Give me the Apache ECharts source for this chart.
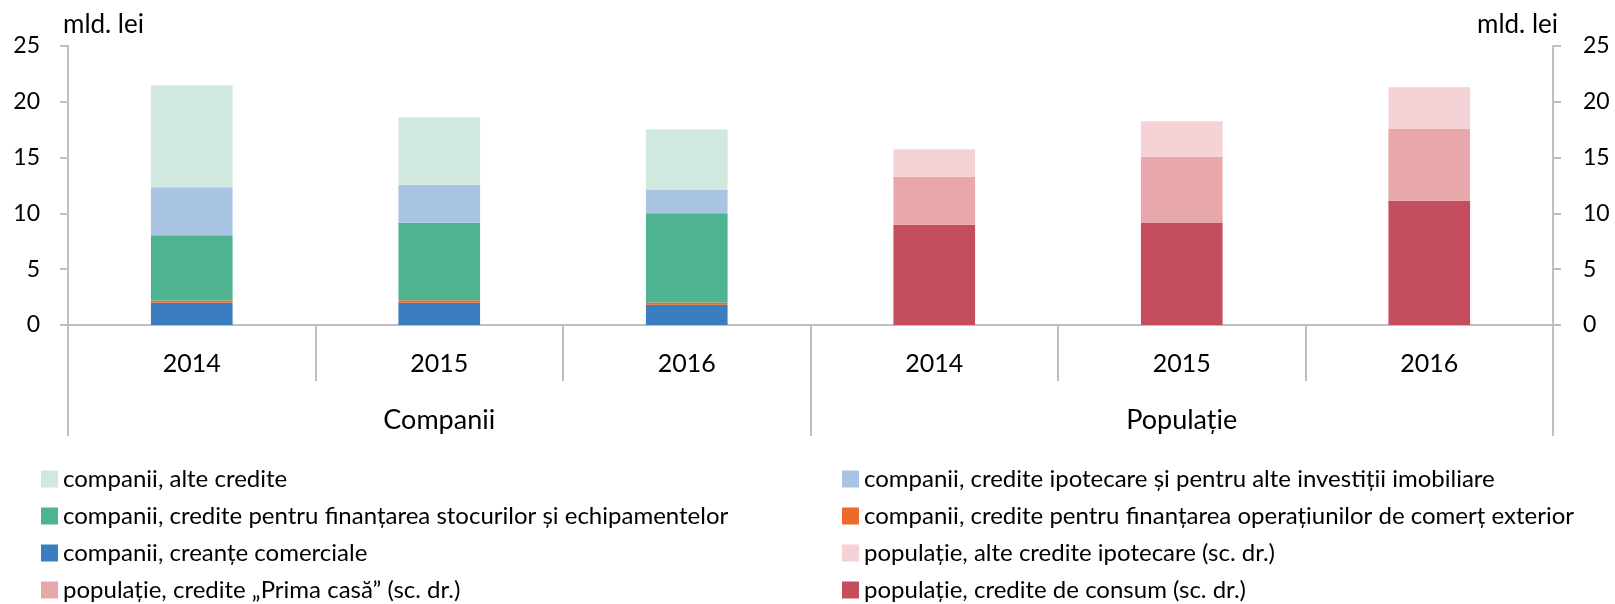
<!DOCTYPE html>
<html>
<head>
<meta charset="utf-8">
<script src="https://cdn.jsdelivr.net/npm/echarts@6/dist/echarts.min.js"></script>
<style>
html,body{margin:0;padding:0;background:#fff;}
#chart{width:1615px;height:604px;}
</style>
</head>
<body>
<div id="chart"></div>
<script>
// ---- data ----
const years = ['2014', '2015', '2016', '2014', '2015', '2016'];
const groups = ['Companii', 'Populație'];
const yTicks = [0, 5, 10, 15, 20, 25];

const compCreante   = [2.0, 2.0, 1.82];
const compComert    = [0.2, 0.22, 0.2];
const compStocuri   = [5.85, 6.94, 8.0];
const compIpotecare = [4.3, 3.4, 2.12];
const compAlte      = [9.13, 6.06, 5.37];

const popConsum     = [8.98, 9.19, 11.13];
const popPrimaCasa  = [4.3, 5.88, 6.44];
const popAlteIpot   = [2.47, 3.19, 3.73];

const names = {
  alte: 'companii, alte credite',
  ipot: 'companii, credite ipotecare și pentru alte investiții imobiliare',
  stoc: 'companii, credite pentru finanțarea stocurilor și echipamentelor',
  comert: 'companii, credite pentru finanțarea operațiunilor de comerț exterior',
  creante: 'companii, creanțe comerciale',
  popAlte: 'populație, alte credite ipotecare (sc. dr.)',
  prima: 'populație, credite „Prima casă” (sc. dr.)',
  consum: 'populație, credite de consum (sc. dr.)'
};

const FONT = 'Lato';
const GREY = '#BFBFBF';

function comp(arr) { return arr.concat(['-', '-', '-']); }
function pop(arr) { return ['-', '-', '-'].concat(arr); }

function bar(name, data, color, stack, yIdx) {
  return {
    name: name, type: 'bar', stack: stack, yAxisIndex: yIdx, xAxisIndex: 0,
    data: data, barWidth: '33%', barGap: '-100%',
    itemStyle: { color: color },
    emphasis: { disabled: true }
  };
}

const chart = echarts.init(document.getElementById('chart'), null, { renderer: 'canvas' });

const legendText = { fontFamily: FONT, fontSize: 24, color: '#000', lineHeight: 24 };

function legendBlock(left, data) {
  return {
    orient: 'vertical', left: left, top: 467, itemGap: 13, padding: 0,
    height: 137,
    itemWidth: 17, itemHeight: 17, icon: 'rect', itemStyle: { borderWidth: 0 },
    textStyle: legendText, selectedMode: false,
    data: data
  };
}

const option = {
  animation: false,
  textStyle: { fontFamily: FONT },
  grid: { left: 68, right: 62, top: 46, height: 279 },
  legend: [
    legendBlock(41, [names.alte, names.stoc, names.creante, names.prima]),
    legendBlock(842, [names.ipot, names.comert, names.popAlte, names.consum])
  ],
  xAxis: [
    {
      type: 'category', data: years, position: 'bottom', gridIndex: 0,
      axisLine: { show: true, lineStyle: { color: GREY, width: 2 } },
      axisTick: { show: true, length: 56, lineStyle: { color: GREY, width: 2 } },
      axisLabel: { fontFamily: FONT, fontSize: 25, color: '#000', margin: 26 },
      splitLine: { show: false }
    },
    {
      type: 'category', data: groups, position: 'bottom', gridIndex: 0,
      axisLine: { show: false },
      axisTick: { show: true, length: 111, lineStyle: { color: GREY, width: 2 } },
      axisLabel: { fontFamily: FONT, fontSize: 27, color: '#000', margin: 82 },
      splitLine: { show: false }
    }
  ],
  yAxis: [
    {
      type: 'value', min: 0, max: 25, interval: 5, position: 'left',
      name: 'mld. lei', nameLocation: 'end', nameGap: 8,
      nameTextStyle: { fontFamily: FONT, fontSize: 26, color: '#000', align: 'left', verticalAlign: 'bottom', padding: [0, 0, 0, -5] },
      axisLine: { show: true, lineStyle: { color: GREY, width: 2 } },
      axisTick: { show: true, length: 8, lineStyle: { color: GREY, width: 2 } },
      axisLabel: { fontFamily: FONT, fontSize: 23, color: '#000', margin: 28 },
      splitLine: { show: false }
    },
    {
      type: 'value', min: 0, max: 25, interval: 5, position: 'right',
      name: 'mld. lei', nameLocation: 'end', nameGap: 8,
      nameTextStyle: { fontFamily: FONT, fontSize: 26, color: '#000', align: 'right', verticalAlign: 'bottom', padding: [0, -5, 0, 0] },
      axisLine: { show: true, lineStyle: { color: GREY, width: 2 } },
      axisTick: { show: true, length: 8, lineStyle: { color: GREY, width: 2 } },
      axisLabel: { fontFamily: FONT, fontSize: 23, color: '#000', margin: 30 },
      splitLine: { show: false }
    }
  ],
  series: [
    bar(names.creante, comp(compCreante), '#3A7EBF', 'comp', 0),
    bar(names.comert, comp(compComert), '#EE6A2C', 'comp', 0),
    bar(names.stoc, comp(compStocuri), '#4DB391', 'comp', 0),
    bar(names.ipot, comp(compIpotecare), '#A9C4E3', 'comp', 0),
    bar(names.alte, comp(compAlte), '#D0E8DD', 'comp', 0),
    bar(names.consum, pop(popConsum), '#C44D5E', 'pop', 1),
    bar(names.prima, pop(popPrimaCasa), '#E8A7AB', 'pop', 1),
    bar(names.popAlte, pop(popAlteIpot), '#F5D2D6', 'pop', 1)
  ]
};

chart.setOption(option);
</script>
</body>
</html>
